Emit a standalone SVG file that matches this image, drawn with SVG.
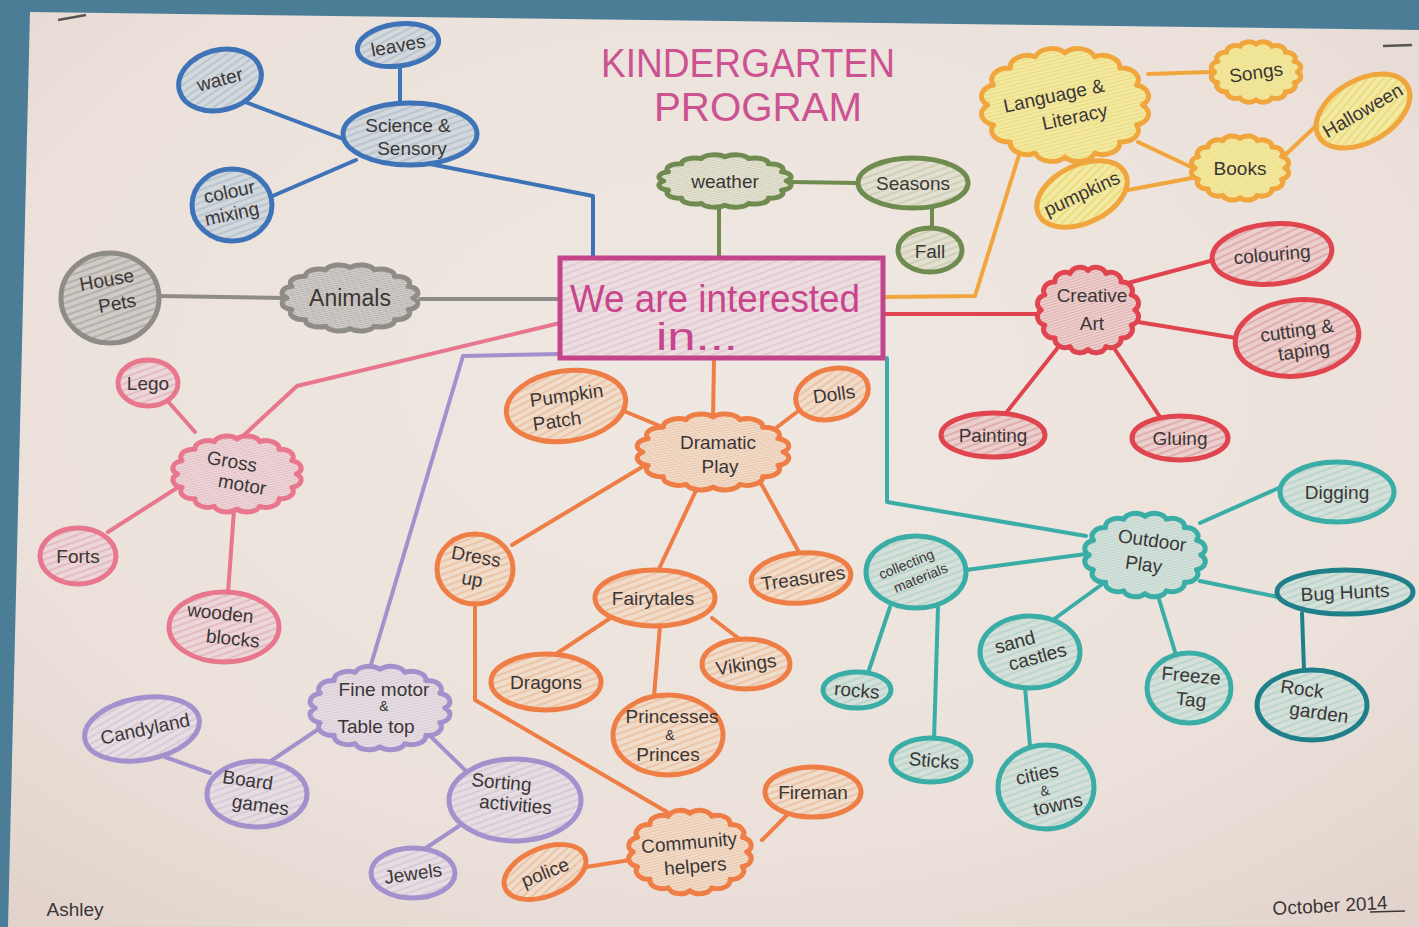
<svg xmlns="http://www.w3.org/2000/svg" xmlns:xlink="http://www.w3.org/1999/xlink" width="1419" height="927" viewBox="0 0 1419 927">
  <style>
    .lbl { font-family: "Liberation Sans", "DejaVu Sans", sans-serif; font-size: 19px; fill: #3b3636; text-anchor: middle; }
    .big { font-size: 23px; }
    .sm { font-size: 14px; }
    .title { font-family: "Liberation Sans", "DejaVu Sans", sans-serif; font-size: 40px; fill: #cc5292; text-anchor: middle; }
    .hub { font-family: "Liberation Sans", "DejaVu Sans", sans-serif; font-size: 38px; fill: #c8448c; }
    .nd { stroke-width: 5; stroke-linejoin: round; }
    .ln { fill: none; stroke-width: 4; stroke-linecap: round; stroke-linejoin: round; }
    .blue { stroke: #3f73b8; fill: url(#hBlue); }
    .grey { stroke: #8f8c87; fill: url(#hGrey); }
    .green { stroke: #6f8b4f; fill: url(#hGreen); }
    .yellow { stroke: #f0a63c; fill: url(#hYellow); }
    .red { stroke: #e0444e; fill: url(#hRed); }
    .pink { stroke: #e8778e; fill: url(#hPink); }
    .purple { stroke: #a291cc; fill: url(#hPurple); }
    .orange { stroke: #ef7e46; fill: url(#hOrange); }
    .teal { stroke: #3bada7; fill: url(#hTeal); }
    .dteal { stroke: #1f8089; fill: url(#hTeal); }
  </style>
  <defs>
    <!-- bumpy cloud outline in a 100-unit box, scaled per node -->
    <path id="cloud" vector-effect="non-scaling-stroke" d="M90,0 A20,20 0 0 1 83.1,34.4 A20,20 0 0 1 63.6,63.6 A20,20 0 0 1 34.4,83.1 A20,20 0 0 1 0,90 A20,20 0 0 1 -34.4,83.1 A20,20 0 0 1 -63.6,63.6 A20,20 0 0 1 -83.1,34.4 A20,20 0 0 1 -90,0 A20,20 0 0 1 -83.1,-34.4 A20,20 0 0 1 -63.6,-63.6 A20,20 0 0 1 -34.4,-83.1 A20,20 0 0 1 0,-90 A20,20 0 0 1 34.4,-83.1 A20,20 0 0 1 63.6,-63.6 A20,20 0 0 1 83.1,-34.4 A20,20 0 0 1 90,0 Z"/>
    <pattern id="hBlue" width="6" height="6" patternUnits="userSpaceOnUse" patternTransform="rotate(70)"><rect width="6" height="6" fill="#d3d8dc"/><rect width="2" height="6" fill="#b9c5cf"/></pattern>
    <pattern id="hGrey" width="6" height="6" patternUnits="userSpaceOnUse" patternTransform="rotate(70)"><rect width="6" height="6" fill="#d0cbc6"/><rect width="2" height="6" fill="#b5b0aa"/></pattern>
    <pattern id="hGreen" width="6" height="6" patternUnits="userSpaceOnUse" patternTransform="rotate(70)"><rect width="6" height="6" fill="#e3e0d2"/><rect width="2" height="6" fill="#cfd0b6"/></pattern>
    <pattern id="hYellow" width="6" height="6" patternUnits="userSpaceOnUse" patternTransform="rotate(70)"><rect width="6" height="6" fill="#f2e9a6"/><rect width="2" height="6" fill="#eddc78"/></pattern>
    <pattern id="hRed" width="6" height="6" patternUnits="userSpaceOnUse" patternTransform="rotate(70)"><rect width="6" height="6" fill="#ebcfcd"/><rect width="2" height="6" fill="#e0aeae"/></pattern>
    <pattern id="hPink" width="6" height="6" patternUnits="userSpaceOnUse" patternTransform="rotate(70)"><rect width="6" height="6" fill="#ecd6d8"/><rect width="2" height="6" fill="#e2bcc2"/></pattern>
    <pattern id="hPurple" width="6" height="6" patternUnits="userSpaceOnUse" patternTransform="rotate(70)"><rect width="6" height="6" fill="#e6dde2"/><rect width="2" height="6" fill="#d8cbd8"/></pattern>
    <pattern id="hOrange" width="6" height="6" patternUnits="userSpaceOnUse" patternTransform="rotate(70)"><rect width="6" height="6" fill="#f0dccb"/><rect width="2" height="6" fill="#ecc4a6"/></pattern>
    <pattern id="hTeal" width="6" height="6" patternUnits="userSpaceOnUse" patternTransform="rotate(70)"><rect width="6" height="6" fill="#d5e0da"/><rect width="2" height="6" fill="#bcd6cc"/></pattern>
    <pattern id="hHub" width="6" height="6" patternUnits="userSpaceOnUse" patternTransform="rotate(70)"><rect width="6" height="6" fill="#ecdde0"/><rect width="2" height="6" fill="#e4cbd3"/></pattern>
    <radialGradient id="paperShade" cx="0.5" cy="0.4" r="0.75">
      <stop offset="0" stop-color="#efe8e2"/>
      <stop offset="0.7" stop-color="#ebe1da"/>
      <stop offset="1" stop-color="#e2d4cd"/>
    </radialGradient>
  </defs>

  <!-- wall and poster sheet -->
  <rect width="1419" height="927" fill="#4c7d97"/>
  <polygon points="30,12 1419,30 1419,927 8,927" fill="url(#paperShade)"/>
  <path d="M58,20 L86,15" stroke="#555" stroke-width="2.5" fill="none"/>
  <path d="M1383,46 L1412,45" stroke="#555" stroke-width="2.5" fill="none"/>

  <!-- heading -->
  <g id="title">
    <text class="title" x="748" y="77" textLength="294" lengthAdjust="spacingAndGlyphs">KINDERGARTEN</text>
    <text class="title" x="758" y="121" textLength="208" lengthAdjust="spacingAndGlyphs">PROGRAM</text>
  </g>

  <g id="connectors">
    <!-- science & sensory -->
    <path class="ln" stroke="#3f73b8" d="M240,100 L346,140 M400,64 L400,104 M268,198 L356,160 M430,164 L593,196 L593,258"/>
    <!-- animals -->
    <path class="ln" stroke="#8f8c87" stroke-width="3" d="M158,296 L284,298 M420,299 L560,299"/>
    <!-- weather -->
    <path class="ln" stroke="#6f8b4f" stroke-width="3" d="M719,205 L719,258 M792,182 L858,183 M932,207 L932,229"/>
    <!-- language & literacy -->
    <path class="ln" stroke="#f0a63c" stroke-width="3" d="M885,297 L975,296 L1020,152 M1148,74 L1210,72 M1138,142 L1193,168 M1283,157 L1318,124 M1128,190 L1192,178"/>
    <!-- creative art -->
    <path class="ln" stroke="#e0444e" d="M885,314 L1038,314 M1128,283 L1214,260 M1138,322 L1236,338 M1060,345 L1006,413 M1114,348 L1160,417"/>
    <!-- gross motor -->
    <path class="ln" stroke="#e8778e" d="M560,323 L297,386 L243,436 M165,398 L195,432 M180,486 L108,532 M234,510 L228,593"/>
    <!-- fine motor -->
    <path class="ln" stroke="#a291cc" stroke-width="2.5" d="M560,354 L463,356 L370,668 M165,757 L210,773 M268,763 L320,728 M422,728 L465,770 M465,822 L420,852"/>
    <!-- dramatic play -->
    <path class="ln" stroke="#ef7e46" d="M714,358 L713,420 M602,402 L660,426 M806,405 L776,428 M667,452 L512,545 M700,482 L658,571 M758,478 L800,554 M612,617 L553,656 M660,626 L654,696 M712,618 L742,641 M475,602 L475,700 L667,812 M762,840 L790,812 M630,860 L586,867"/>
    <!-- outdoor play -->
    <path class="ln" stroke="#3bada7" stroke-width="2.5" d="M887,358 L887,502 L1086,536"/>
    <path class="ln" stroke="#3bada7" d="M1200,523 L1281,487 M1200,581 L1278,597 M1158,596 L1176,655 M1108,580 L1050,622 M1086,554 L966,570 M890,607 L868,673 M938,607 L934,740 M1025,687 L1030,746"/>
    <path class="ln" stroke="#1f8089" stroke-width="5" d="M1302,613 L1304,670"/>
  </g>

  <!-- central hub -->
  <g id="hub">
    <rect x="560" y="258" width="323" height="100" fill="url(#hHub)" stroke="#c4448a" stroke-width="5"/>
    <text class="hub" x="570" y="312" textLength="290" lengthAdjust="spacingAndGlyphs">We are interested</text>
    <text class="hub" x="656" y="350" textLength="82" lengthAdjust="spacingAndGlyphs">in...</text>
  </g>

  <!-- science & sensory branch -->
  <g id="science">
    <ellipse class="nd blue" cx="410" cy="134" rx="67" ry="31"/>
    <text class="lbl" x="408" y="132">Science &amp;</text>
    <text class="lbl" x="412" y="155">Sensory</text>
  </g>
  <g id="water">
    <ellipse class="nd blue" cx="220" cy="80" rx="42" ry="30" transform="rotate(-15 220 80)"/>
    <text class="lbl" x="220" y="86" transform="rotate(-15 220 80)">water</text>
  </g>
  <g id="leaves">
    <ellipse class="nd blue" cx="398" cy="45" rx="41" ry="21" transform="rotate(-8 398 45)"/>
    <text class="lbl" x="398" y="52" transform="rotate(-10 398 45)">leaves</text>
  </g>
  <g id="colour-mixing">
    <ellipse class="nd blue" cx="232" cy="205" rx="40" ry="36"/>
    <text class="lbl" x="232" y="198" transform="rotate(-12 232 205)">colour</text>
    <text class="lbl" x="230" y="220" transform="rotate(-12 232 205)">mixing</text>
  </g>

  <!-- animals branch -->
  <g id="animals">
    <use href="#cloud" class="nd grey" transform="translate(350 298) scale(0.7 0.34)"/>
    <text class="lbl big" x="350" y="306">Animals</text>
  </g>
  <g id="house-pets">
    <ellipse class="nd grey" cx="110" cy="298" rx="49" ry="45"/>
    <text class="lbl" x="110" y="286" transform="rotate(-10 110 298)">House</text>
    <text class="lbl" x="116" y="311" transform="rotate(-10 110 298)">Pets</text>
  </g>

  <!-- weather branch -->
  <g id="weather">
    <use href="#cloud" class="nd green" transform="translate(725 181) scale(0.68 0.27)"/>
    <text class="lbl" x="725" y="188">weather</text>
  </g>
  <g id="seasons">
    <ellipse class="nd green" cx="913" cy="183" rx="55" ry="25"/>
    <text class="lbl" x="913" y="190">Seasons</text>
  </g>
  <g id="fall">
    <ellipse class="nd green" cx="930" cy="250" rx="32" ry="22"/>
    <text class="lbl" x="930" y="258">Fall</text>
  </g>

  <!-- language & literacy branch -->
  <g id="language">
    <use href="#cloud" class="nd yellow" transform="translate(1065 105) scale(0.86 0.58)"/>
    <text class="lbl" x="1056" y="100" transform="rotate(-12 1065 105)">Language &amp;</text>
    <text class="lbl" x="1072" y="125" transform="rotate(-12 1065 105)">Literacy</text>
  </g>
  <g id="songs">
    <use href="#cloud" class="nd yellow" transform="translate(1256 72) scale(0.46 0.31)"/>
    <text class="lbl" x="1256" y="79" transform="rotate(-8 1256 72)">Songs</text>
  </g>
  <g id="halloween">
    <ellipse class="nd yellow" cx="1363" cy="111" rx="51" ry="31" transform="rotate(-30 1363 111)"/>
    <text class="lbl" x="1363" y="117" transform="rotate(-30 1363 111)">Halloween</text>
  </g>
  <g id="books">
    <use href="#cloud" class="nd yellow" transform="translate(1240 168) scale(0.5 0.33)"/>
    <text class="lbl" x="1240" y="175">Books</text>
  </g>
  <g id="pumpkins">
    <ellipse class="nd yellow" cx="1082" cy="194" rx="48" ry="29" transform="rotate(-25 1082 194)"/>
    <text class="lbl" x="1082" y="200" transform="rotate(-25 1082 194)">pumpkins</text>
  </g>

  <!-- creative art branch -->
  <g id="creative-art">
    <use href="#cloud" class="nd red" transform="translate(1088 310) scale(0.52 0.44)"/>
    <text class="lbl" x="1092" y="302">Creative</text>
    <text class="lbl" x="1092" y="330">Art</text>
  </g>
  <g id="colouring">
    <ellipse class="nd red" cx="1272" cy="254" rx="60" ry="30" transform="rotate(-5 1272 254)"/>
    <text class="lbl" x="1272" y="261" transform="rotate(-5 1272 254)">colouring</text>
  </g>
  <g id="cutting">
    <ellipse class="nd red" cx="1297" cy="338" rx="62" ry="38" transform="rotate(-6 1297 338)"/>
    <text class="lbl" x="1298" y="337" transform="rotate(-8 1297 338)">cutting &amp;</text>
    <text class="lbl" x="1302" y="358" transform="rotate(-8 1297 338)">taping</text>
  </g>
  <g id="painting">
    <ellipse class="nd red" cx="993" cy="435" rx="52" ry="22"/>
    <text class="lbl" x="993" y="442">Painting</text>
  </g>
  <g id="gluing">
    <ellipse class="nd red" cx="1180" cy="438" rx="48" ry="22"/>
    <text class="lbl" x="1180" y="445">Gluing</text>
  </g>

  <!-- gross motor branch -->
  <g id="gross-motor">
    <use href="#cloud" class="nd pink" transform="translate(237 474) scale(0.66 0.39)"/>
    <text class="lbl" x="230" y="469" transform="rotate(10 237 474)">Gross</text>
    <text class="lbl" x="244" y="490" transform="rotate(10 237 474)">motor</text>
  </g>
  <g id="lego">
    <ellipse class="nd pink" cx="148" cy="383" rx="30" ry="23"/>
    <text class="lbl" x="148" y="390">Lego</text>
  </g>
  <g id="forts">
    <ellipse class="nd pink" cx="78" cy="556" rx="38" ry="28"/>
    <text class="lbl" x="78" y="563">Forts</text>
  </g>
  <g id="wooden-blocks">
    <ellipse class="nd pink" cx="224" cy="627" rx="55" ry="35"/>
    <text class="lbl" x="219" y="620" transform="rotate(6 224 627)">wooden</text>
    <text class="lbl" x="234" y="644" transform="rotate(6 224 627)">blocks</text>
  </g>

  <!-- fine motor branch -->
  <g id="fine-motor">
    <use href="#cloud" class="nd purple" transform="translate(380 708) scale(0.72 0.43)"/>
    <text class="lbl" x="384" y="696">Fine motor</text>
    <text class="lbl sm" x="384" y="711">&amp;</text>
    <text class="lbl" x="376" y="733">Table top</text>
  </g>
  <g id="candyland">
    <ellipse class="nd purple" cx="142" cy="729" rx="58" ry="31" transform="rotate(-10 142 729)"/>
    <text class="lbl" x="145" y="736" transform="rotate(-12 142 729)">Candyland</text>
  </g>
  <g id="board-games">
    <ellipse class="nd purple" cx="257" cy="794" rx="50" ry="33"/>
    <text class="lbl" x="246" y="788" transform="rotate(8 257 794)">Board</text>
    <text class="lbl" x="262" y="811" transform="rotate(8 257 794)">games</text>
  </g>
  <g id="sorting">
    <ellipse class="nd purple" cx="515" cy="800" rx="66" ry="41"/>
    <text class="lbl" x="500" y="790" transform="rotate(5 515 800)">Sorting</text>
    <text class="lbl" x="516" y="811" transform="rotate(5 515 800)">activities</text>
  </g>
  <g id="jewels">
    <ellipse class="nd purple" cx="413" cy="873" rx="42" ry="25"/>
    <text class="lbl" x="413" y="880" transform="rotate(-8 413 873)">Jewels</text>
  </g>

  <!-- dramatic play branch -->
  <g id="dramatic-play">
    <use href="#cloud" class="nd orange" transform="translate(713 452) scale(0.78 0.39)"/>
    <text class="lbl" x="718" y="449">Dramatic</text>
    <text class="lbl" x="720" y="473">Play</text>
  </g>
  <g id="pumpkin-patch">
    <ellipse class="nd orange" cx="566" cy="406" rx="60" ry="35" transform="rotate(-8 566 406)"/>
    <text class="lbl" x="568" y="402" transform="rotate(-8 566 406)">Pumpkin</text>
    <text class="lbl" x="555" y="426" transform="rotate(-8 566 406)">Patch</text>
  </g>
  <g id="dolls">
    <ellipse class="nd orange" cx="832" cy="394" rx="37" ry="25" transform="rotate(-15 832 394)"/>
    <text class="lbl" x="834" y="401" transform="rotate(-8 832 394)">Dolls</text>
  </g>
  <g id="dress-up">
    <ellipse class="nd orange" cx="475" cy="569" rx="38" ry="35"/>
    <text class="lbl" x="474" y="563" transform="rotate(10 475 569)">Dress</text>
    <text class="lbl" x="474" y="586" transform="rotate(10 475 569)">up</text>
  </g>
  <g id="fairytales">
    <ellipse class="nd orange" cx="655" cy="598" rx="60" ry="28"/>
    <text class="lbl" x="653" y="605">Fairytales</text>
  </g>
  <g id="treasures">
    <ellipse class="nd orange" cx="801" cy="578" rx="50" ry="25" transform="rotate(-5 801 578)"/>
    <text class="lbl" x="803" y="585" transform="rotate(-8 801 578)">Treasures</text>
  </g>
  <g id="dragons">
    <ellipse class="nd orange" cx="546" cy="682" rx="55" ry="28"/>
    <text class="lbl" x="546" y="689">Dragons</text>
  </g>
  <g id="vikings">
    <ellipse class="nd orange" cx="746" cy="664" rx="44" ry="25"/>
    <text class="lbl" x="746" y="671" transform="rotate(-8 746 664)">Vikings</text>
  </g>
  <g id="princesses">
    <ellipse class="nd orange" cx="668" cy="735" rx="55" ry="40"/>
    <text class="lbl" x="672" y="723">Princesses</text>
    <text class="lbl sm" x="670" y="740">&amp;</text>
    <text class="lbl" x="668" y="761">Princes</text>
  </g>
  <g id="fireman">
    <ellipse class="nd orange" cx="813" cy="792" rx="48" ry="25"/>
    <text class="lbl" x="813" y="799">Fireman</text>
  </g>
  <g id="community">
    <use href="#cloud" class="nd orange" transform="translate(690 852) scale(0.63 0.43)"/>
    <text class="lbl" x="690" y="849" transform="rotate(-5 690 852)">Community</text>
    <text class="lbl" x="694" y="873" transform="rotate(-5 690 852)">helpers</text>
  </g>
  <g id="police">
    <ellipse class="nd orange" cx="545" cy="872" rx="43" ry="24" transform="rotate(-22 545 872)"/>
    <text class="lbl" x="545" y="879" transform="rotate(-22 545 872)">police</text>
  </g>

  <!-- outdoor play branch -->
  <g id="outdoor-play">
    <use href="#cloud" class="nd teal" transform="translate(1145 555) scale(0.62 0.43)"/>
    <text class="lbl" x="1150" y="546" transform="rotate(8 1145 555)">Outdoor</text>
    <text class="lbl" x="1145" y="571" transform="rotate(8 1145 555)">Play</text>
  </g>
  <g id="digging">
    <ellipse class="nd teal" cx="1337" cy="492" rx="57" ry="30"/>
    <text class="lbl" x="1337" y="499">Digging</text>
  </g>
  <g id="bug-hunts">
    <ellipse class="nd dteal" cx="1345" cy="592" rx="68" ry="22" stroke-width="7"/>
    <text class="lbl" x="1345" y="599" transform="rotate(-3 1345 592)">Bug Hunts</text>
  </g>
  <g id="rock-garden">
    <ellipse class="nd dteal" cx="1312" cy="705" rx="55" ry="35" stroke-width="6"/>
    <text class="lbl" x="1300" y="697" transform="rotate(8 1312 705)">Rock</text>
    <text class="lbl" x="1320" y="718" transform="rotate(8 1312 705)">garden</text>
  </g>
  <g id="freeze-tag">
    <ellipse class="nd teal" cx="1189" cy="688" rx="42" ry="35"/>
    <text class="lbl" x="1190" y="682" transform="rotate(5 1189 688)">Freeze</text>
    <text class="lbl" x="1192" y="706" transform="rotate(5 1189 688)">Tag</text>
  </g>
  <g id="sand-castles">
    <ellipse class="nd teal" cx="1030" cy="652" rx="50" ry="36"/>
    <text class="lbl" x="1018" y="645" transform="rotate(-15 1030 652)">sand</text>
    <text class="lbl" x="1036" y="665" transform="rotate(-15 1030 652)">castles</text>
  </g>
  <g id="collecting">
    <ellipse class="nd teal" cx="916" cy="572" rx="50" ry="36"/>
    <text class="lbl sm" x="910" y="566" transform="rotate(-22 916 572)">collecting</text>
    <text class="lbl sm" x="918" y="584" transform="rotate(-22 916 572)">materials</text>
  </g>
  <g id="rocks">
    <ellipse class="nd teal" cx="857" cy="690" rx="34" ry="18"/>
    <text class="lbl" x="857" y="697" transform="rotate(5 857 690)">rocks</text>
  </g>
  <g id="sticks">
    <ellipse class="nd teal" cx="931" cy="760" rx="40" ry="22"/>
    <text class="lbl" x="934" y="767" transform="rotate(5 931 760)">Sticks</text>
  </g>
  <g id="cities-towns">
    <ellipse class="nd teal" cx="1046" cy="787" rx="48" ry="42"/>
    <text class="lbl" x="1040" y="779" transform="rotate(-12 1046 787)">cities</text>
    <text class="lbl sm" x="1044" y="795" transform="rotate(-12 1046 787)">&amp;</text>
    <text class="lbl" x="1054" y="813" transform="rotate(-12 1046 787)">towns</text>
  </g>

  <!-- signatures -->
  <g id="signature">
    <text class="lbl" x="75" y="916">Ashley</text>
    <text class="lbl" x="1330" y="912" transform="rotate(-3 1330 905)">October 2014</text>
    <path d="M1370,912 L1405,911" stroke="#3b3636" stroke-width="1.5" fill="none"/>
  </g>
</svg>
